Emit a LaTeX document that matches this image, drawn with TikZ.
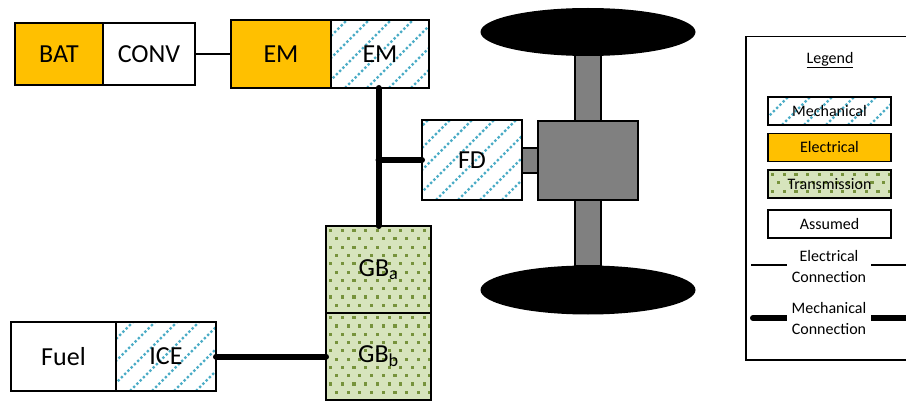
\documentclass[tikz,border=0pt]{standalone}
\usepackage{fontspec}
\setmainfont{Carlito}
\usetikzlibrary{positioning,shapes.geometric}
\definecolor{elecorange}{HTML}{FFC000}
\definecolor{mechblue}{HTML}{4BACC6}
\definecolor{transgreen}{HTML}{D7E4BD}
\definecolor{dotgreen}{HTML}{77933C}
\definecolor{partgray}{HTML}{808080}
\tikzset{blk/.style={draw, line width=1.8pt, rectangle, inner sep=0pt, outer sep=0pt, font=\fontsize{26}{28}\selectfont}}
\tikzset{elecblk/.style={blk, fill=elecorange}}
\tikzset{mechblk/.style={blk, path picture={
    \foreach \k in {-140,-118,...,140}
      \draw[mechblue, line width=2.4pt, dash pattern=on 2.4pt off 2.2pt] ([xshift=\k pt]path picture bounding box.south west) -- ++(160,-160);
  }}}
\tikzset{transblk/.style={blk, fill=transgreen, path picture={
    \foreach \r in {0,...,10}
      \foreach \c in {0,...,10}
        \fill[dotgreen] ([shift={({\c*11.7+mod(\r,2)*5.85+3},{\r*8.3+3})}]path picture bounding box.north west) rectangle ++(3.2,3.2);
  }}}
\tikzset{partblk/.style={draw, line width=1.5pt, fill=partgray, inner sep=0pt, outer sep=0pt}}
\tikzset{wheel/.style={ellipse, fill=black, inner sep=0pt}}
\tikzset{eline/.style={line width=1.5pt}}
\tikzset{mline/.style={line width=6pt, line cap=round}}
\tikzset{legtext/.style={font=\fontsize{16}{21}\selectfont, align=center}}

\begin{document}
\begin{tikzpicture}[x=1pt, y=-1pt]
    \useasboundingbox (0,0) rectangle (906,401);
    \clip (0,0) rectangle (906,401);

    \node[elecblk, minimum width=88, minimum height=62] (bat) at (59,54) {BAT};
    \node[blk, minimum width=92, minimum height=62, right=0pt of bat] (conv) {CONV};
    \node[elecblk, minimum width=100, minimum height=68] (eme) at (281,54) {EM};
    \node[mechblk, minimum width=98, minimum height=68, right=0pt of eme] (emm) {EM};
    \node[mechblk, minimum width=100, minimum height=80] (fd) at (472,160) {FD};

    \node[partblk, minimum width=26, minimum height=66] (axtop) at (588,88) {};
    \node[partblk, minimum width=26, minimum height=66] (axbot) at (588,233) {};
    \node[wheel, minimum width=215, minimum height=48] (whtop) at (588,32) {};
    \node[wheel, minimum width=215, minimum height=49] (whbot) at (588,290) {};
    \node[partblk, minimum width=100, minimum height=79] (diff) at (588,160.5) {};
    \node[partblk, minimum width=16, minimum height=25, left=0pt of diff] (shaft) {};

    \node[transblk, minimum width=105, minimum height=87] (gba) at (378.5,269.5) {GB\textsubscript{a}};
    \node[transblk, minimum width=105, minimum height=87, below=0pt of gba] (gbb) {GB\textsubscript{b}};
    \node[blk, minimum width=105, minimum height=69] (fuel) at (63.5,356.5) {Fuel};
    \node[mechblk, minimum width=100, minimum height=69, right=0pt of fuel] (ice) {ICE};

    \draw[eline] (conv) -- (eme);
    \draw[mline] (gba.north |- emm.south) -- (gba.north);
    \coordinate (tee) at (gba.north |- fd.west);
    \draw[mline] (tee) -- (fd.west);
    \draw[mline] (ice) -- (gbb);

    % legend
    \node[draw, line width=1.5pt, minimum width=200, minimum height=323, anchor=north west, inner sep=0pt] (legend) at (745,36) {};
    \node[legtext] (legtitle) at (830,60) {\underline{Legend}};
    \node[mechblk, legtext, minimum width=123, minimum height=28] (legmech) at (829.5,111) {Mechanical};
    \node[elecblk, legtext, minimum width=123, minimum height=28] (legelec) at (829.5,147.5) {Electrical};
    \node[transblk, legtext, minimum width=123, minimum height=28] (legtrans) at (829.5,184) {Transmission};
    \node[blk, legtext, minimum width=123, minimum height=28] (legassumed) at (829.5,224) {Assumed};

    \coordinate (elstart) at (751,265);
    \coordinate (elend) at (912,265);
    \draw[eline] (elstart) -- (elend);
    \node[legtext, fill=white, inner xsep=4.5pt, inner ysep=0pt] (legeltext) at (829,266.5) {Electrical\\Connection};
    \coordinate (mestart) at (753,318);
    \coordinate (meend) at (912,318);
    \draw[mline] (mestart) -- (meend);
    \node[legtext, fill=white, inner xsep=4.5pt, inner ysep=0pt] (legmetext) at (829,319) {Mechanical\\Connection};
\end{tikzpicture}
\end{document}
